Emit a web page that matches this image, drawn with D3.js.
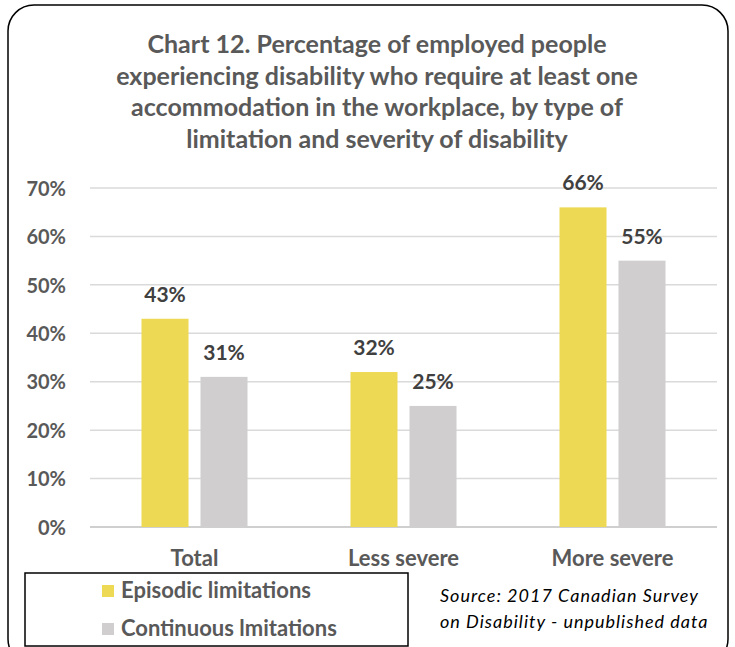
<!DOCTYPE html>
<html>
<head>
<meta charset="utf-8">
<script src="https://cdn.jsdelivr.net/npm/d3@7"></script>
<style>
  html, body { margin: 0; padding: 0; background: #fff; }
  svg { display: block; }
</style>
</head>
<body>
<svg id="chart" width="735" height="647"></svg>
<script>
// Chart data
const categories = ["Total", "Less severe", "More severe"];
const seriesNames = ["Episodic limitations", "Continuous lmitations"];
const episodic = [43, 32, 66];
const continuous = [31, 25, 55];
const yTicks = [0, 10, 20, 30, 40, 50, 60, 70];
const titleLines = [
  "Chart 12. Percentage of employed people",
  "experiencing disability who require at least one",
  "accommodation in the workplace, by type of",
  "limitation and severity of disability"
];
const sourceLines = [
  "Source: 2017 Canadian Survey",
  "on Disability - unpublished data"
];

const colors = ["#EED955", "#D0CECE"];
const textGray = "#595959";
const font = "Lato, 'Open Sans', sans-serif";

const svg = d3.select("#chart");

// Rounded outer frame
svg.append("rect")
  .attr("x", 8).attr("y", 5)
  .attr("width", 720).attr("height", 660)
  .attr("rx", 26).attr("ry", 26)
  .attr("fill", "#fff")
  .attr("stroke", "#000").attr("stroke-width", 1.5);

// Title
const title = svg.append("text")
  .attr("text-anchor", "middle")
  .attr("font-family", font)
  .attr("font-weight", "bold")
  .attr("font-size", 25)
  .attr("fill", textGray);
titleLines.forEach((t, i) => {
  title.append("tspan").attr("x", 377).attr("y", 53 + i * 31.5).text(t);
});

// Scales
const plot = { left: 90, right: 717, top: 188, bottom: 527 };
const x = d3.scaleBand().domain(categories).range([plot.left, plot.right]);
const y = d3.scaleLinear().domain([0, 70]).range([plot.bottom, plot.top]);
const barW = 47, gap = 12;
const xs = d3.scaleOrdinal().domain([0, 1]).range([
  (x.bandwidth() - (2 * barW + gap)) / 2,
  (x.bandwidth() - (2 * barW + gap)) / 2 + barW + gap
]);

// Gridlines
svg.append("g")
  .selectAll("line")
  .data(yTicks)
  .join("line")
  .attr("x1", plot.left).attr("x2", plot.right)
  .attr("y1", d => y(d)).attr("y2", d => y(d))
  .attr("stroke", d => d === 0 ? "#cfcfcf" : "#dadada")
  .attr("stroke-width", d => d === 0 ? 2 : 1.5);

// Y axis labels
const yAxis = svg.append("g")
  .attr("transform", `translate(${plot.left - 24},0)`)
  .call(d3.axisLeft(y).tickValues(yTicks).tickSize(0).tickFormat(d => d + "%"));
yAxis.select(".domain").remove();
yAxis.selectAll("text")
  .attr("font-family", font)
  .attr("font-weight", "bold")
  .attr("font-size", 20)
  .attr("fill", textGray)
  .attr("x", 0)
  .attr("dy", "0.36em");

// Bars and value labels
const rows = categories.map((c, i) => ({ cat: c, values: [episodic[i], continuous[i]] }));
const groups = svg.append("g")
  .selectAll("g")
  .data(rows)
  .join("g")
  .attr("transform", d => `translate(${x(d.cat)},0)`);

groups.selectAll("rect")
  .data(d => d.values.map((v, s) => ({ v, s })))
  .join("rect")
  .attr("x", d => xs(d.s))
  .attr("width", barW)
  .attr("y", d => y(d.v))
  .attr("height", d => y(0) - y(d.v))
  .attr("fill", d => colors[d.s]);

groups.selectAll("text.val")
  .data(d => d.values.map((v, s) => ({ v, s })))
  .join("text")
  .attr("class", "val")
  .attr("x", d => xs(d.s) + barW / 2)
  .attr("y", d => y(d.v) - 17)
  .attr("text-anchor", "middle")
  .attr("font-family", font)
  .attr("font-weight", "bold")
  .attr("font-size", 21)
  .attr("fill", "#404040")
  .text(d => d.v + "%");

// Category labels
const xAxis = svg.append("g")
  .attr("transform", `translate(0,${plot.bottom})`)
  .call(d3.axisBottom(x).tickSize(0));
xAxis.select(".domain").remove();
xAxis.selectAll("text")
  .attr("font-family", font)
  .attr("font-weight", "bold")
  .attr("font-size", 22)
  .attr("fill", textGray)
  .attr("y", 39)
  .attr("dy", 0);

// Legend box
svg.append("rect")
  .attr("x", 25).attr("y", 573)
  .attr("width", 383).attr("height", 73)
  .attr("fill", "#fff")
  .attr("stroke", "#000").attr("stroke-width", 1.5);

const legend = svg.append("g")
  .selectAll("g")
  .data(seriesNames)
  .join("g")
  .attr("transform", (d, i) => `translate(102,${585 + i * 38})`);
legend.append("rect")
  .attr("width", 12).attr("height", 12)
  .attr("fill", (d, i) => colors[i]);
legend.append("text")
  .attr("x", 19).attr("y", 13)
  .attr("font-family", font)
  .attr("font-weight", "bold")
  .attr("font-size", 22)
  .attr("fill", textGray)
  .text(d => d);

// Source note
const src = svg.append("text")
  .attr("font-family", font)
  .attr("font-style", "italic")
  .attr("font-size", 18)
  .attr("letter-spacing", 1)
  .attr("fill", "#000");
sourceLines.forEach((t, i) => {
  src.append("tspan").attr("x", 440).attr("y", 602 + i * 26).text(t);
});
</script>
</body>
</html>
